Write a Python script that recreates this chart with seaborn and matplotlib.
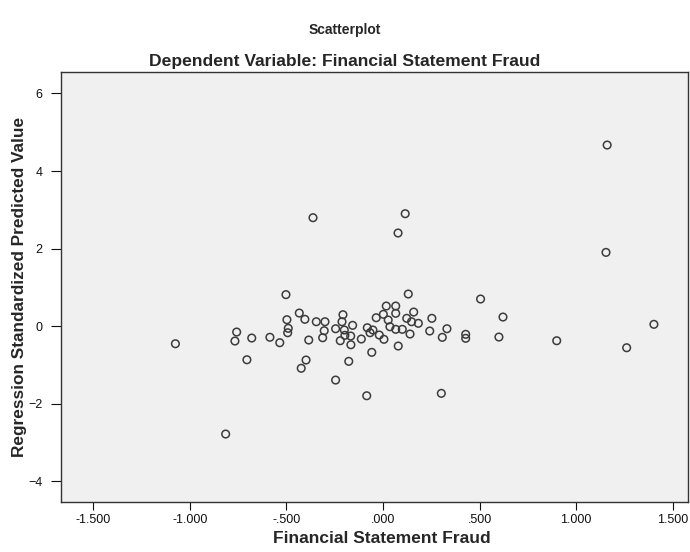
import matplotlib
matplotlib.use("Agg")
import matplotlib.pyplot as plt
import seaborn as sns
import pandas as pd
from matplotlib.ticker import FuncFormatter

# values
fraud = [
    -0.502, -0.433, -0.404, -0.497, -0.490, -0.493, -0.757, -0.766,
    -0.679, -0.585, -0.534, -1.074, -0.384, -0.704, -0.398, -0.423,
    0.131, 0.017, 0.066, 0.002, 0.066, 0.159, -0.035, 0.027,
    0.123, 0.148, 0.183, 0.253, 0.331, 0.036, 0.066, 0.100,
    0.140, 0.242, 0.307, -0.081, -0.052, -0.067, -0.019, 0.005,
    -0.112, 0.079, -0.058, -0.177, -0.245, -0.084, 0.302, -0.207,
    -0.212, -0.157, -0.245, -0.200, -0.197, -0.167, -0.221, -0.166,
    -0.300, -0.345, -0.304, -0.312,
    0.505, 0.621, 0.428, 0.428, 0.600, 0.899, 1.261, 1.402,
    1.160, 1.154, -0.362, 0.115, 0.078, -0.814,
]
predicted = [
    0.81, 0.335, 0.173, 0.163, -0.059, -0.173, -0.155, -0.387,
    -0.31, -0.29, -0.43, -0.457, -0.361, -0.87, -0.877, -1.09,
    0.826, 0.516, 0.516, 0.302, 0.328, 0.361, 0.214, 0.155,
    0.199, 0.111, 0.07, 0.199, -0.07, -0.018, -0.085, -0.085,
    -0.206, -0.129, -0.292, -0.044, -0.103, -0.173, -0.232, -0.343,
    -0.335, -0.516, -0.679, -0.911, -1.394, -1.799, -1.737, 0.292,
    0.111, 0.018, -0.07, -0.103, -0.24, -0.258, -0.379, -0.483,
    0.111, 0.111, -0.121, -0.302,
    0.697, 0.232, -0.214, -0.317, -0.284, -0.379, -0.56, 0.044,
    4.67, 1.90, 2.795, 2.898, 2.40, -2.787,
]

df = pd.DataFrame({"Financial Statement Fraud": fraud,
                   "Regression Standardized Predicted Value": predicted})

sns.set_style("ticks")
plt.rcParams["font.family"] = ["Liberation Sans", "DejaVu Sans"]

fig = plt.figure(figsize=(6.9, 5.52), dpi=100)
ax = fig.add_axes([0.0884, 0.0906, 0.9086, 0.779])
ax.set_facecolor("#f0f0f0")

sns.scatterplot(data=df, x="Financial Statement Fraud",
                y="Regression Standardized Predicted Value", ax=ax,
                marker="o", s=30, facecolors="none", edgecolors="#3c3c3c",
                linewidth=1.1)

ax.set_xlim(-1.666, 1.578)
ax.set_ylim(-4.54, 6.555)
ax.set_xticks([-1.5, -1.0, -0.5, 0.0, 0.5, 1.0, 1.5])
ax.set_yticks([-4, -2, 0, 2, 4, 6])


def spss_fmt(v, pos):
    s = f"{v:.3f}"
    return s.replace("0.", ".", 1) if abs(v) < 1 else s


ax.xaxis.set_major_formatter(FuncFormatter(spss_fmt))
ax.tick_params(axis="both", labelsize=9, colors="#111111", width=0.8,
               direction="out")
ax.tick_params(axis="x", length=6, pad=2.5)
ax.tick_params(axis="y", length=7, pad=6.5)

for side in ["left", "bottom", "top", "right"]:
    ax.spines[side].set_color("#333333")
    ax.spines[side].set_linewidth(1.0)

ax.set_xlabel("Financial Statement Fraud", fontsize=12.5, fontweight="bold",
              labelpad=4)
ax.xaxis.label.set_x(0.512)
ax.set_ylabel("Regression Standardized Predicted Value", fontsize=12.4,
              fontweight="bold", labelpad=1)

fig.text(0.5, 0.945, "Scatterplot", ha="center", va="center",
         fontsize=10, fontweight="bold")
fig.text(0.5, 0.889, "Dependent Variable: Financial Statement Fraud",
         ha="center", va="center", fontsize=12.6, fontweight="bold")

fig.savefig("out.png", dpi=100)
